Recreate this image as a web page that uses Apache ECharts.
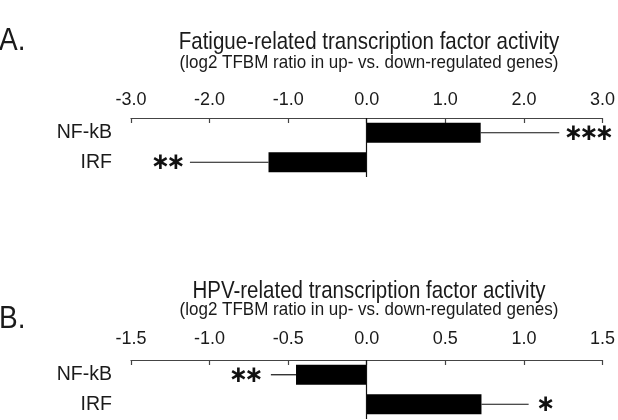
<!DOCTYPE html>
<html>
<head>
<meta charset="utf-8">
<script src="https://cdn.jsdelivr.net/npm/echarts@6/dist/echarts.min.js"></script>
<style>
html,body{margin:0;padding:0;background:#fff;}
#c{width:618px;height:420px;}
</style>
</head>
<body>
<div id="c"></div>
<script>
const categories = ['NF-kB', 'IRF'];
const fatigueValues = [1.45, -1.25];
const fatigueErrorEnds = [2.45, -2.25];
const fatigueStars = ['***', '**'];
const hpvValues = [-0.45, 0.73];
const hpvErrorEnds = [-0.61, 1.03];
const hpvStars = ['**', '*'];
const fatigueAxis = { min: -3, max: 3, interval: 1 };
const hpvAxis = { min: -1.5, max: 1.5, interval: 0.5 };
const panelTitles = ['Fatigue-related transcription factor activity', 'HPV-related transcription factor activity'];
const panelSubtitle = '(log2 TFBM ratio in up- vs. down-regulated genes)';
const panelLetters = ['A.', 'B.'];

const FONT = '"Liberation Sans", Arial, sans-serif';
const TXT = '#1a1a1a';

function errData(vals, ends, stars) {
  return vals.map((v, i) => [ends[i], i, v, stars[i]]);
}

function renderErr(params, api) {
  const idx = api.value(1);
  const barEnd = api.coord([api.value(2), idx]);
  const errEnd = api.coord([api.value(0), idx]);
  const starStr = api.value(3);
  const dir = errEnd[0] >= barEnd[0] ? 1 : -1;
  const children = [{
    type: 'line',
    shape: { x1: barEnd[0], y1: barEnd[1], x2: errEnd[0], y2: errEnd[1] },
    style: { stroke: '#111', lineWidth: 1.2 }
  }];
  const gap = params.seriesName === 'hpvErr' ? 11 : 8;
  const pitch = 15.5;
  const n = String(starStr).length;
  for (let k = 0; k < n; k++) {
    const cx = dir > 0 ? errEnd[0] + gap + 6 + k * pitch : errEnd[0] - gap - 6 - (n - 1 - k) * pitch;
    children.push({
      type: 'text',
      style: {
        text: '\u2217', x: cx, y: errEnd[1] + 1,
        fill: '#111', fontSize: 23, fontWeight: 'bold',
        fontFamily: '"DejaVu Sans", sans-serif',
        align: 'center', verticalAlign: 'middle'
      }
    });
  }
  return { type: 'group', children };
}

function xAxisFor(cfg, grid, margin) {
  return {
    type: 'value', gridIndex: grid, position: 'top',
    min: cfg.min, max: cfg.max, interval: cfg.interval,
    axisLine: { show: true, onZero: false, lineStyle: { color: '#444', width: 1.2 } },
    axisTick: { show: true, inside: true, length: 5, lineStyle: { color: '#444', width: 1.2 } },
    splitLine: { show: false },
    axisLabel: { margin: margin, color: TXT, fontSize: 18, fontFamily: FONT, formatter: v => v.toFixed(1) }
  };
}
function yAxisFor(grid) {
  return {
    type: 'category', gridIndex: grid, data: categories, inverse: true,
    axisLine: { show: false }, axisTick: { show: false }, splitLine: { show: false },
    axisLabel: { margin: 19, color: TXT, fontSize: 19.5, fontFamily: FONT }
  };
}
function zeroLine() {
  return {
    silent: true, symbol: 'none', label: { show: false },
    lineStyle: { color: '#111', width: 1.2, type: 'solid' },
    data: [{ xAxis: 0 }]
  };
}
function txt(text, x, y, size, align, sy) {
  return { type: 'text', x: x, y: y, scaleY: sy,
    style: { text: text, fontSize: size, fontFamily: FONT, fill: TXT, align: align, verticalAlign: 'middle' } };
}

const chart = echarts.init(document.getElementById('c'), null, { renderer: 'canvas' });
chart.setOption({
  animation: false,
  backgroundColor: '#fff',
  grid: [
    { left: 131, right: 14, top: 118, height: 59 },
    { left: 131, right: 14, top: 360, height: 59 }
  ],
  xAxis: [xAxisFor(fatigueAxis, 0, 9), xAxisFor(hpvAxis, 1, 12)],
  yAxis: [yAxisFor(0), yAxisFor(1)],
  graphic: [
    txt(panelLetters[0], -1, 41, 28, 'left', 1.12),
    txt(panelLetters[1], -1, 319, 28, 'left', 1.12),
    txt(panelTitles[0], 369, 42, 20.5, 'center', 1.15),
    txt(panelSubtitle, 369, 63, 17, 'center', 1.12),
    txt(panelTitles[1], 369, 291, 20.5, 'center', 1.15),
    txt(panelSubtitle, 369, 310, 17, 'center', 1.12)
  ],
  series: [
    { type: 'bar', name: 'fatigue', xAxisIndex: 0, yAxisIndex: 0, data: fatigueValues, barWidth: 20,
      itemStyle: { color: '#000' }, markLine: zeroLine(), z: 2 },
    { type: 'custom', name: 'fatigueErr', xAxisIndex: 0, yAxisIndex: 0, renderItem: renderErr,
      data: errData(fatigueValues, fatigueErrorEnds, fatigueStars), encode: { x: [0, 2], y: 1 }, z: 3 },
    { type: 'bar', name: 'hpv', xAxisIndex: 1, yAxisIndex: 1, data: hpvValues, barWidth: 20,
      itemStyle: { color: '#000' }, markLine: zeroLine(), z: 2 },
    { type: 'custom', name: 'hpvErr', xAxisIndex: 1, yAxisIndex: 1, renderItem: renderErr,
      data: errData(hpvValues, hpvErrorEnds, hpvStars), encode: { x: [0, 2], y: 1 }, z: 3 }
  ]
});
</script>
</body>
</html>
